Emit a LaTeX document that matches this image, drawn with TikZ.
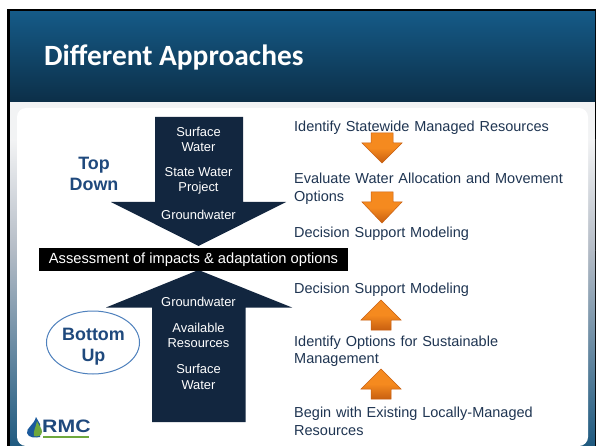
\documentclass[tikz,border=0pt]{standalone}
\usepackage{fontspec}
\usetikzlibrary{shapes.geometric}
\setmainfont{Liberation Sans}
\newfontfamily\titlefont{Carlito}
\definecolor{navy}{HTML}{12263F}
\definecolor{bodytxt}{HTML}{1F3552}
\definecolor{headblue}{HTML}{1F497D}
\definecolor{ringblue}{HTML}{4F81BD}
\definecolor{orangeA}{HTML}{F58A1F}
\definecolor{orangeB}{HTML}{C85F10}
\definecolor{HeaderTop}{HTML}{155A87}
\definecolor{HeaderBot}{HTML}{0C2F48}
\definecolor{PanelTop}{HTML}{F2F3F4}
\definecolor{PanelMid}{HTML}{B4BCC6}
\definecolor{PanelBot}{HTML}{1F5A80}
\definecolor{logoblue}{HTML}{1B5A9C}
\definecolor{logogreen}{HTML}{6FA83C}
\tikzset{
  x=1pt,y=-1pt,
  bigarrow/.style={fill=navy,draw=none},
  inarrow/.style={text=white,font=\fontsize{12.9}{15.5}\selectfont,align=center,inner sep=0pt},
  bodytext/.style={text=bodytxt,font=\fontsize{14.5}{17.5}\selectfont,align=left,anchor=west,inner sep=0pt,text width=290pt},
  sidehead/.style={text=headblue,font=\fontsize{17.9}{21}\selectfont\bfseries,align=center,inner sep=0pt},
  orangearrow/.style={draw=orangeB,line width=0.5pt,top color=orangeA,bottom color=orangeB,middle color=orangeA},
}
\begin{document}
\begin{tikzpicture}
\useasboundingbox (0,0) rectangle (596,446);
\fill[white] (0,0) rectangle (596,446);
\fill[black] (7,9) rectangle (596,446);
% slide background
\fill[PanelTop] (10,102) rectangle (595,140);
\shade[top color=PanelTop,bottom color=PanelMid] (10,140) rectangle (595,250);
\shade[top color=PanelMid,bottom color=PanelBot] (10,250) rectangle (595,446);
% header
\shade[top color=HeaderTop,bottom color=HeaderBot] (10,12) rectangle (595,102) ;
\node[text=white,font=\titlefont\fontsize{29.4}{34}\selectfont\bfseries,anchor=west,inner sep=0pt] (title) at (44,57) {Different Approaches};
% white panel
\fill[white,rounded corners=9pt] (17,108) rectangle (588,446);
% big arrows
\path[bigarrow] (155,117) -- (243,117) -- (243,202) -- (286,202) -- (198.5,246) -- (111,202) -- (155,202) -- cycle;
\path[bigarrow] (198.5,270) -- (292,307.5) -- (245.5,307.5) -- (245.5,422) -- (152,422) -- (152,307.5) -- (106,307.5) -- cycle;
\node[fill=black,text=white,font=\fontsize{14.7}{17}\selectfont,minimum width=309pt,minimum height=23pt,inner sep=0pt] (assess) at (193.5,259.5) {Assessment of impacts \& adaptation options};
\node[inarrow] (sw1) at (198.5,139.5) {Surface\\Water};
\node[inarrow] (swp) at (198.5,181) {State Water\\Project};
\node[inarrow] (gw1) at (198.5,215) {Groundwater};
\node[inarrow] (gw2) at (198.5,302) {Groundwater};
\node[inarrow] (avail) at (198.5,335.5) {Available\\Resources};
\node[inarrow] (sw2) at (198.5,377) {Surface\\Water};
\node[sidehead] (top) at (94,173.5) {Top\\Down};
\node[draw=ringblue,line width=1pt,ellipse,minimum width=93pt,minimum height=63pt,inner sep=0pt] (ring) at (93,342.5) {};
\node[sidehead] (bottom) at (93.5,346.5) {Bottom\\Up};
% right text
\node[bodytext] (t1) at (294,127.5) {Identify Statewide Managed Resources};
\node[bodytext] (t2) at (294,189) {Evaluate Water Allocation and Movement\\Options};
\node[bodytext] (t3) at (294,233.5) {Decision Support Modeling};
\node[bodytext] (t4) at (294,290) {Decision Support Modeling};
\node[bodytext] (t5) at (294,351) {Identify Options for Sustainable\\Management};
\node[bodytext] (t6) at (294,421.5) {Begin with Existing Locally-Managed\\Resources};
% orange arrows
\path[orangearrow] (371,133) -- (393,133) -- (393,143) -- (402,143) -- (382,163) -- (362,143) -- (371,143) -- cycle;
\path[orangearrow] (371,192) -- (393,192) -- (393,202) -- (402,202) -- (382,223) -- (362,202) -- (371,202) -- cycle;
\path[orangearrow] (381,300) -- (401,320) -- (391,320) -- (391,330) -- (371,330) -- (371,320) -- (361,320) -- cycle;
\path[orangearrow] (381,369) -- (401,389) -- (391,389) -- (391,399) -- (371,399) -- (371,389) -- (361,389) -- cycle;
% logo
\fill[logoblue] (36,417) .. controls (34,425) and (26,428) .. (27,433) .. controls (28,438) and (36,438) .. (40,437) -- (40,424) -- cycle;
\fill[logogreen] (37,421) .. controls (39,426) and (42,428) .. (42,432) .. controls (42,436) and (37,437) .. (34,436) .. controls (33,431) and (36,427) .. (37,421) -- cycle;
\fill[logogreen] (43,435.5) rectangle (89,437.5);
\node[text=headblue,font=\fontsize{18}{20}\selectfont\bfseries,anchor=west,inner sep=0pt,xscale=1.18] (logo) at (42,426.5) {RMC};
\end{tikzpicture}
\end{document}
